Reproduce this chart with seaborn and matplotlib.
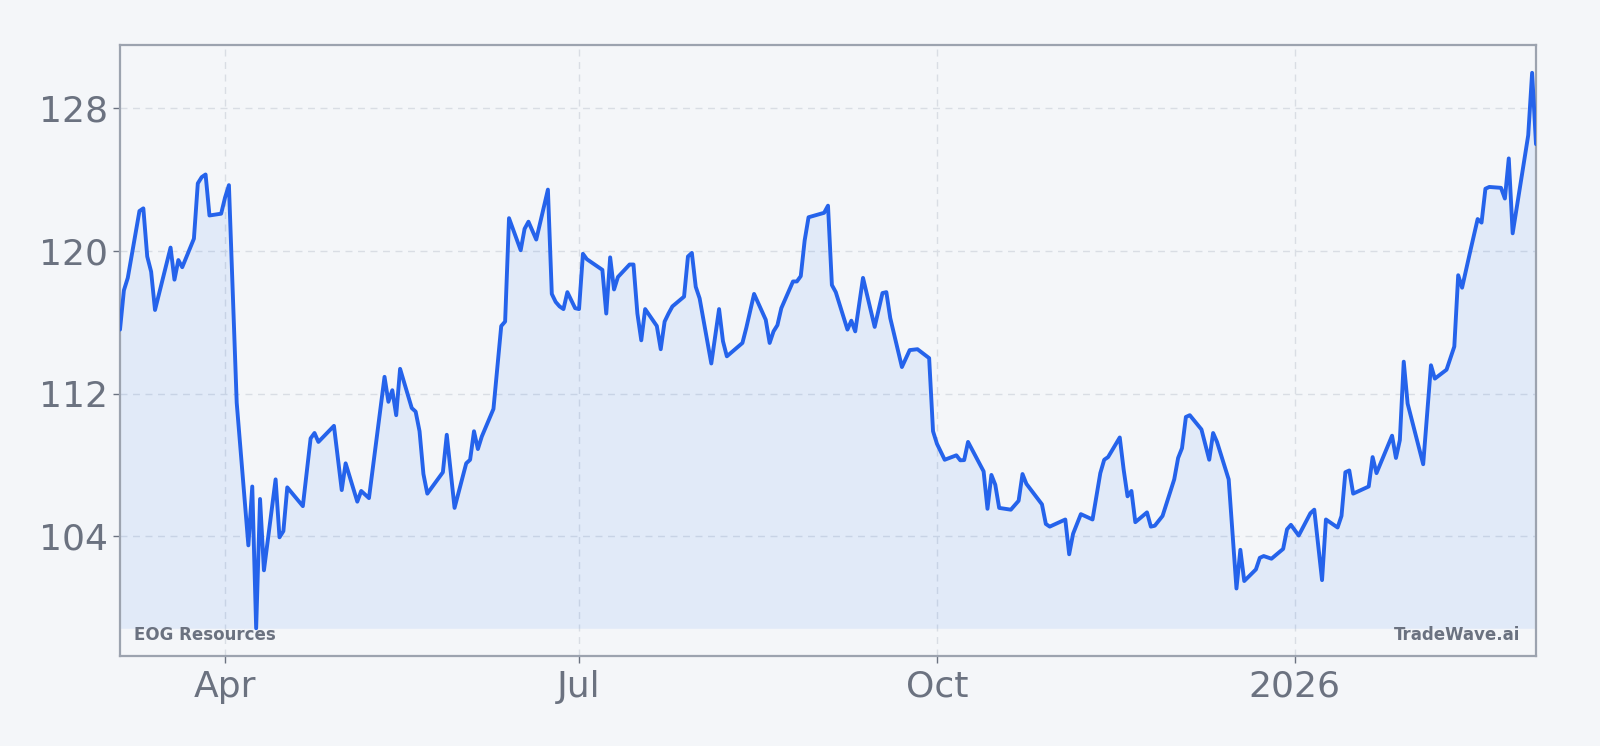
import matplotlib
matplotlib.use("Agg")
import matplotlib.pyplot as plt
import matplotlib.dates as mdates
from matplotlib.ticker import MultipleLocator, FuncFormatter
import seaborn as sns
import pandas as pd

# closing prices (turning points of the line)
dates = [
    "2025-03-05", "2025-03-06", "2025-03-07", "2025-03-10", "2025-03-11", "2025-03-12",
    "2025-03-13", "2025-03-14", "2025-03-18", "2025-03-19", "2025-03-20", "2025-03-21",
    "2025-03-24", "2025-03-25", "2025-03-26", "2025-03-27", "2025-03-28", "2025-03-31",
    "2025-04-01", "2025-04-02", "2025-04-04", "2025-04-07", "2025-04-08", "2025-04-09",
    "2025-04-10", "2025-04-11", "2025-04-14", "2025-04-15", "2025-04-16", "2025-04-17",
    "2025-04-21", "2025-04-23", "2025-04-24", "2025-04-25", "2025-04-29", "2025-05-01",
    "2025-05-02", "2025-05-05", "2025-05-06", "2025-05-08", "2025-05-12", "2025-05-13",
    "2025-05-14", "2025-05-15", "2025-05-16", "2025-05-19", "2025-05-20", "2025-05-21",
    "2025-05-22", "2025-05-23", "2025-05-27", "2025-05-28", "2025-05-30", "2025-06-02",
    "2025-06-03", "2025-06-04", "2025-06-05", "2025-06-06", "2025-06-09", "2025-06-11",
    "2025-06-12", "2025-06-13", "2025-06-16", "2025-06-17", "2025-06-18", "2025-06-20",
    "2025-06-23", "2025-06-24", "2025-06-25", "2025-06-26", "2025-06-27", "2025-06-28",
    "2025-06-30", "2025-07-01", "2025-07-02", "2025-07-03", "2025-07-07", "2025-07-08",
    "2025-07-09", "2025-07-10", "2025-07-11", "2025-07-14", "2025-07-15", "2025-07-16",
    "2025-07-17", "2025-07-18", "2025-07-21", "2025-07-22", "2025-07-23", "2025-07-24",
    "2025-07-25", "2025-07-28", "2025-07-29", "2025-07-30", "2025-07-31", "2025-08-01",
    "2025-08-04", "2025-08-06", "2025-08-07", "2025-08-08", "2025-08-12", "2025-08-13",
    "2025-08-15", "2025-08-18", "2025-08-19", "2025-08-20", "2025-08-21", "2025-08-22",
    "2025-08-25", "2025-08-26", "2025-08-27", "2025-08-28", "2025-08-29", "2025-09-02",
    "2025-09-03", "2025-09-04", "2025-09-05", "2025-09-08", "2025-09-09", "2025-09-10",
    "2025-09-12", "2025-09-15", "2025-09-17", "2025-09-18", "2025-09-19", "2025-09-22",
    "2025-09-24", "2025-09-26", "2025-09-29", "2025-09-30", "2025-10-01", "2025-10-03",
    "2025-10-06", "2025-10-07", "2025-10-08", "2025-10-09", "2025-10-13", "2025-10-14",
    "2025-10-15", "2025-10-16", "2025-10-17", "2025-10-20", "2025-10-22", "2025-10-23",
    "2025-10-24", "2025-10-28", "2025-10-29", "2025-10-30", "2025-11-03", "2025-11-04",
    "2025-11-05", "2025-11-07", "2025-11-10", "2025-11-12", "2025-11-13", "2025-11-14",
    "2025-11-17", "2025-11-18", "2025-11-19", "2025-11-20", "2025-11-21", "2025-11-24",
    "2025-11-25", "2025-11-26", "2025-11-28", "2025-12-01", "2025-12-02", "2025-12-03",
    "2025-12-04", "2025-12-05", "2025-12-08", "2025-12-10", "2025-12-11", "2025-12-12",
    "2025-12-15", "2025-12-17", "2025-12-18", "2025-12-19", "2025-12-22", "2025-12-23",
    "2025-12-24", "2025-12-26", "2025-12-29", "2025-12-30", "2025-12-31", "2026-01-02",
    "2026-01-05", "2026-01-06", "2026-01-08", "2026-01-09", "2026-01-12", "2026-01-13",
    "2026-01-14", "2026-01-15", "2026-01-16", "2026-01-20", "2026-01-21", "2026-01-22",
    "2026-01-26", "2026-01-27", "2026-01-28", "2026-01-29", "2026-01-30", "2026-02-03",
    "2026-02-05", "2026-02-06", "2026-02-09", "2026-02-10", "2026-02-11", "2026-02-12",
    "2026-02-13", "2026-02-15", "2026-02-17", "2026-02-18", "2026-02-19", "2026-02-20",
    "2026-02-23", "2026-02-24", "2026-02-25", "2026-02-26", "2026-03-02", "2026-03-03",
    "2026-03-04",
]
prices = [
    115.6, 117.8, 118.5, 122.25, 122.4, 119.7,
    118.85, 116.7, 120.2, 118.4, 119.5, 119.1,
    120.7, 123.8, 124.15, 124.3, 122.0, 122.1,
    123.0, 123.7, 111.5, 103.5, 106.8, 98.85,
    106.1, 102.1, 107.2, 103.95, 104.3, 106.75,
    105.7, 109.5, 109.8, 109.3, 110.2, 106.6,
    108.1, 105.95, 106.55, 106.15, 112.95, 111.55,
    112.2, 110.8, 113.4, 111.2, 111.0, 109.9,
    107.5, 106.4, 107.6, 109.7, 105.6, 108.1,
    108.3, 109.9, 108.9, 109.6, 111.15, 115.8,
    116.05, 121.85, 120.05, 121.25, 121.65, 120.65,
    123.45, 117.6, 117.15, 116.9, 116.75, 117.7,
    116.8, 116.75, 119.85, 119.55, 118.95, 116.5,
    119.65, 117.85, 118.55, 119.25, 119.25, 116.5,
    115.0, 116.75, 115.8, 114.5, 116.05, 116.5,
    116.9, 117.45, 119.7, 119.9, 118.0, 117.35,
    113.7, 116.75, 114.95, 114.1, 114.85, 115.7,
    117.6, 116.15, 114.85, 115.5, 115.85, 116.8,
    118.3, 118.3, 118.6, 120.6, 121.9, 122.15,
    122.55, 118.1, 117.7, 115.6, 116.1, 115.5,
    118.5, 115.75, 117.65, 117.7, 116.25, 113.5,
    114.45, 114.5, 114.0, 109.9, 109.2, 108.3,
    108.55, 108.27, 108.28, 109.3, 107.65, 105.55,
    107.45, 106.9, 105.6, 105.5, 106.0, 107.5,
    106.95, 105.8, 104.7, 104.55, 104.95, 103.0,
    104.15, 105.25, 104.95, 107.55, 108.3, 108.45,
    109.55, 107.75, 106.25, 106.55, 104.8, 105.35,
    104.55, 104.6, 105.15, 107.2, 108.4, 108.95,
    110.7, 110.8, 110.0, 108.3, 109.8, 109.3,
    107.2, 101.08, 103.25, 101.5, 102.15, 102.8,
    102.9, 102.75, 103.3, 104.4, 104.65, 104.05,
    105.3, 105.5, 101.55, 104.95, 104.5, 105.15,
    107.6, 107.7, 106.4, 106.8, 108.45, 107.55,
    109.65, 108.4, 109.4, 113.8, 111.45, 108.05,
    113.6, 112.85, 113.35, 114.0, 114.65, 118.65,
    117.95, 119.9, 121.8, 121.6, 123.5, 123.6,
    123.55, 122.95, 125.2, 121.0, 126.5, 130.0,
    126.0,
]
ticker_name = "EOG Resources"
brand = "TradeWave.ai"

df = pd.DataFrame({"date": pd.to_datetime(dates), "close": prices})

sns.set_theme(style="whitegrid")
plt.rcParams['font.family'] = ['DejaVu Sans']

bg = "#f4f6f9"
blue = "#2563eb"
grey = "#6b7280"

fig = plt.figure(figsize=(16, 7.46), dpi=100, facecolor=bg)
ax = fig.add_axes([0.075, 0.1206, 0.885, 0.819])
ax.set_facecolor(bg)

sns.lineplot(data=df, x="date", y="close", ax=ax, color=blue, linewidth=2.8, zorder=3)
ax.fill_between(df["date"], df["close"], df["close"].min(), color="#3b82f6", alpha=0.1,
                linewidth=0, zorder=2)

ax.set_xlim(df["date"].iloc[0], df["date"].iloc[-1])
ax.margins(y=0.05)
ax.set_xlabel("")
ax.set_ylabel("")

ax.xaxis.set_major_locator(mdates.MonthLocator(bymonth=[1, 4, 7, 10]))
ax.xaxis.set_major_formatter(FuncFormatter(
    lambda v, p: mdates.num2date(v).strftime('%Y' if mdates.num2date(v).month == 1 else '%b')))
ax.yaxis.set_major_locator(MultipleLocator(8))

ax.tick_params(axis="both", labelsize=26, labelcolor=grey, color=grey,
               length=5, width=1, bottom=True, left=True)
ax.tick_params(axis="y", pad=3.5)
ax.tick_params(axis="x", pad=5)

ax.grid(True, linestyle=(0, (5, 4)), color="#d9dde4", linewidth=1)
for s in ax.spines.values():
    s.set_visible(True)
    s.set_color("#9ca3af")
    s.set_linewidth(1.6)

ax.text(0.0101, 0.026, ticker_name, transform=ax.transAxes, ha="left", va="baseline",
        fontsize=12, fontweight="bold", color=grey, zorder=4)
ax.text(0.9892, 0.026, brand, transform=ax.transAxes, ha="right", va="baseline",
        fontsize=12, fontweight="bold", color=grey, zorder=4)

fig.savefig("out.png", dpi=100, facecolor=bg)
